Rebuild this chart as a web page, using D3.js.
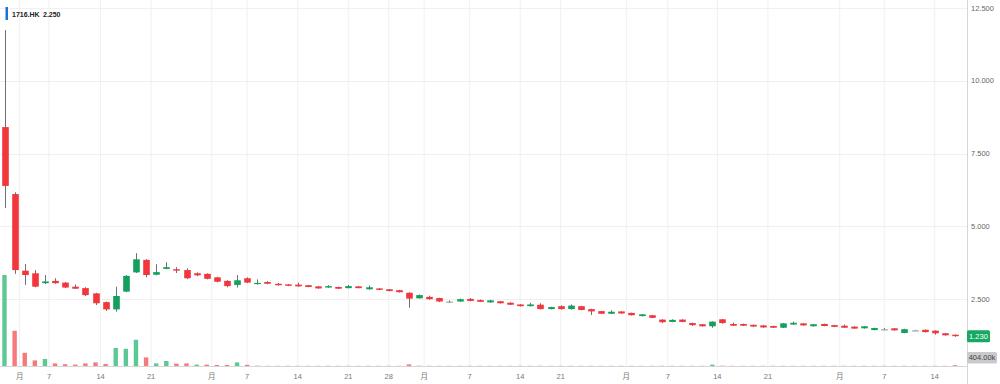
<!DOCTYPE html>
<html>
<head>
<meta charset="utf-8">
<script src="https://cdn.jsdelivr.net/npm/d3@7"></script>
<style>
  body { margin: 0; background: #fff; }
  text { font-family: "Liberation Sans", "Noto Sans CJK SC", sans-serif; }
</style>
</head>
<body>
<div id="chart"></div>
<script>
// daily candles
var opens = [8.41, 6.11, 3.48, 3.39, 3.05, 3.13, 3.07, 2.93, 2.88, 2.70,
  2.40, 2.15, 2.76, 3.42, 3.85, 3.34, 3.54, 3.53, 3.50, 3.39,
  3.37, 3.25, 3.13, 2.99, 3.22, 3.02, 3.09, 3.03, 3.01, 3.00,
  2.98, 2.94, 2.90, 2.92, 2.88, 2.94, 2.84, 2.87, 2.84, 2.81,
  2.72, 2.53, 2.58, 2.54, 2.42, 2.42, 2.51, 2.47, 2.39, 2.43,
  2.38, 2.32, 2.26, 2.31, 2.16, 2.26, 2.16, 2.26, 2.16, 2.09,
  2.00, 2.08, 2.03, 1.92, 1.95, 1.80, 1.72, 1.80, 1.68, 1.64,
  1.57, 1.81, 1.65, 1.65, 1.62, 1.60, 1.58, 1.52, 1.63, 1.67,
  1.57, 1.65, 1.61, 1.59, 1.56, 1.50, 1.44, 1.47, 1.50, 1.34,
  1.43, 1.45, 1.42, 1.33, 1.28];
var highs = [11.74, 6.17, 3.71, 3.50, 3.33, 3.22, 3.09, 3.01, 2.91, 2.72,
  2.42, 2.93, 3.33, 4.08, 3.87, 3.70, 3.77, 3.60, 3.56, 3.42,
  3.39, 3.27, 3.15, 3.33, 3.25, 3.18, 3.12, 3.06, 3.02, 3.07,
  2.99, 2.95, 2.98, 2.93, 2.99, 2.95, 2.97, 2.88, 2.85, 2.82,
  2.74, 2.66, 2.62, 2.55, 2.46, 2.52, 2.54, 2.49, 2.48, 2.44,
  2.39, 2.33, 2.38, 2.36, 2.24, 2.29, 2.32, 2.27, 2.17, 2.10,
  2.12, 2.09, 2.04, 1.99, 1.96, 1.81, 1.81, 1.81, 1.69, 1.65,
  1.74, 1.82, 1.70, 1.66, 1.63, 1.61, 1.59, 1.68, 1.73, 1.68,
  1.65, 1.66, 1.62, 1.63, 1.57, 1.58, 1.52, 1.51, 1.51, 1.48,
  1.45, 1.46, 1.43, 1.34, 1.29];
var lows = [5.63, 3.37, 2.99, 2.91, 3.02, 3.03, 2.88, 2.85, 2.61, 2.30,
  2.10, 2.07, 2.74, 3.40, 3.25, 3.32, 3.53, 3.40, 3.19, 3.29,
  3.18, 3.08, 2.91, 2.90, 3.05, 3.00, 3.02, 2.97, 2.95, 2.93,
  2.91, 2.86, 2.89, 2.85, 2.87, 2.87, 2.83, 2.81, 2.77, 2.73,
  2.21, 2.52, 2.48, 2.40, 2.38, 2.41, 2.43, 2.40, 2.38, 2.35,
  2.30, 2.25, 2.25, 2.15, 2.15, 2.14, 2.14, 2.12, 1.96, 1.99,
  1.99, 2.00, 1.94, 1.91, 1.85, 1.68, 1.71, 1.71, 1.58, 1.56,
  1.52, 1.66, 1.58, 1.58, 1.55, 1.52, 1.51, 1.51, 1.62, 1.59,
  1.56, 1.57, 1.54, 1.51, 1.48, 1.49, 1.43, 1.44, 1.42, 1.33,
  1.42, 1.36, 1.28, 1.25, 1.21];
var closes = [6.39, 3.50, 3.33, 2.93, 3.11, 3.05, 2.90, 2.86, 2.64, 2.36,
  2.15, 2.61, 3.30, 3.87, 3.33, 3.43, 3.60, 3.48, 3.22, 3.32,
  3.20, 3.10, 2.95, 3.15, 3.07, 3.06, 3.03, 2.98, 2.96, 2.94,
  2.92, 2.87, 2.95, 2.86, 2.95, 2.88, 2.91, 2.82, 2.78, 2.74,
  2.52, 2.64, 2.50, 2.42, 2.42, 2.50, 2.44, 2.41, 2.46, 2.36,
  2.31, 2.26, 2.32, 2.16, 2.23, 2.16, 2.28, 2.13, 2.08, 2.00,
  2.07, 2.01, 1.95, 1.98, 1.86, 1.71, 1.79, 1.72, 1.61, 1.57,
  1.73, 1.68, 1.59, 1.59, 1.56, 1.53, 1.52, 1.67, 1.69, 1.60,
  1.64, 1.58, 1.55, 1.52, 1.49, 1.57, 1.51, 1.47, 1.43, 1.47,
  1.43, 1.37, 1.33, 1.26, 1.23];
// volume in millions of shares
var volumes = [45.5, 17.6, 6.6, 2.8, 3.5, 1.3, 0.9, 0.7, 1.3, 1.8,
  1.0, 9.0, 8.6, 13.1, 4.3, 1.3, 2.5, 1.2, 1.3, 0.7,
  0.7, 0.5, 0.5, 1.8, 0.6, 0.15, 0.1, 0.1, 0.12, 0.1,
  0.1, 0.1, 0.12, 0.1, 0.1, 0.1, 0.12, 0.1, 0.1, 0.1,
  0.8, 0.15, 0.1, 0.1, 0.1, 0.1, 0.1, 0.1, 0.1, 0.1,
  0.1, 0.1, 0.1, 0.12, 0.1, 0.1, 0.1, 0.1, 0.12, 0.1,
  0.1, 0.1, 0.1, 0.1, 0.1, 0.12, 0.1, 0.1, 0.1, 0.1,
  0.7, 0.15, 0.1, 0.1, 0.1, 0.1, 0.1, 0.12, 0.1, 0.1,
  0.1, 0.1, 0.1, 0.1, 0.1, 0.1, 0.1, 0.1, 0.1, 0.12,
  0.1, 0.1, 0.1, 0.1, 0.404];

var priceTicks = [2.5, 5, 7.5, 10, 12.5];
var tickPos = [1.5, 4.4, 9.5, 14.5, 20.5, 24, 29, 34, 38, 41.5, 46, 51, 55, 61.5, 65.6, 70.5, 75.5, 82.6, 87, 92];
var tickLabels = ["月", "7", "14", "21", "月", "7", "14", "21", "28", "月", "7", "14", "21", "月", "7", "14", "21", "月", "7", "14"];
var symbol = "1716.HK";
var legendPrice = 2.25;

var width = 1000, height = 384;
var plotRight = 967, baseY = 366;
var red = "#f2363c", green = "#12a05c", gray = "#a0a0a0";

var svg = d3.select("#chart").append("svg")
    .attr("width", width)
    .attr("height", height);

var x = d3.scaleLinear().domain([0, closes.length - 1]).range([4.5, 955]);
var y = d3.scaleLinear().domain([0, 12.5]).range([372, 8]);
var yVol = d3.scaleLinear().domain([0, 50]).range([baseY, baseY - 100]);

var data = closes.map(function(c, i) {
    return {i: i, o: opens[i], h: highs[i], l: lows[i], c: c, v: volumes[i],
        prev: i > 0 ? closes[i - 1] : null};
});

// grid
svg.append("g").selectAll("line").data(tickPos).enter().append("line")
    .attr("x1", d => x(d)).attr("x2", d => x(d))
    .attr("y1", 0).attr("y2", baseY)
    .attr("stroke", "#f0f0f0").attr("stroke-width", 1);
svg.append("g").selectAll("line").data(priceTicks).enter().append("line")
    .attr("x1", 0).attr("x2", plotRight)
    .attr("y1", d => Math.round(y(d)) + 0.5).attr("y2", d => Math.round(y(d)) + 0.5)
    .attr("stroke", "#f0f0f0").attr("stroke-width", 1);

// volume bars
svg.append("g").selectAll("rect").data(data).enter().append("rect")
    .attr("x", d => x(d.i) - 2.2)
    .attr("width", 4.4)
    .attr("y", d => yVol(d.v))
    .attr("height", d => baseY - yVol(d.v))
    .attr("fill", d => (d.prev === null || d.c >= d.prev) ? "#5cc995" : "#f47a7c");

// candles
var candle = svg.append("g").selectAll("g").data(data).enter().append("g");
function candleColor(d) {
    if (d.c > d.o) return green;
    if (d.c < d.o) return red;
    return gray;
}
candle.append("line")
    .attr("x1", d => Math.round(x(d.i)) + 0.5).attr("x2", d => Math.round(x(d.i)) + 0.5)
    .attr("y1", d => y(d.h)).attr("y2", d => y(d.l))
    .attr("stroke", "#707070").attr("stroke-width", 1);
candle.append("rect")
    .attr("x", d => Math.round(x(d.i)) + 0.5 - 3.3)
    .attr("width", 6.6)
    .attr("y", d => y(Math.max(d.o, d.c)))
    .attr("height", d => Math.max(1.2, Math.abs(y(d.o) - y(d.c))))
    .attr("fill", candleColor);

// axes lines
svg.append("line").attr("x1", 0).attr("x2", plotRight)
    .attr("y1", baseY + 0.5).attr("y2", baseY + 0.5)
    .attr("stroke", "#d6d6d6");
svg.append("line").attr("x1", plotRight + 0.5).attr("x2", plotRight + 0.5)
    .attr("y1", 0).attr("y2", height)
    .attr("stroke", "#d6d6d6");

// right price axis
svg.append("g").selectAll("text").data(priceTicks).enter().append("text")
    .attr("x", 971)
    .attr("y", d => y(d))
    .attr("dy", "0.35em")
    .attr("font-size", "7.5px")
    .attr("fill", "#666")
    .text(d => d3.format(".3f")(d));

// bottom axis labels
svg.append("g").selectAll("text").data(tickPos).enter().append("text")
    .attr("x", d => x(d))
    .attr("y", 376)
    .attr("dy", "0.35em")
    .attr("text-anchor", "middle")
    .attr("font-size", "7.5px")
    .attr("fill", "#777")
    .text((d, i) => tickLabels[i]);

// last price tag
var last = data[data.length - 1];
svg.append("rect").attr("x", plotRight).attr("y", y(last.c) - 6)
    .attr("width", 23).attr("height", 12).attr("rx", 1.5)
    .attr("fill", "#17a862");
svg.append("text").attr("x", plotRight + 11.5).attr("y", y(last.c))
    .attr("dy", "0.35em").attr("text-anchor", "middle")
    .attr("font-size", "7.5px").attr("fill", "#fff")
    .text(d3.format(".3f")(last.c));

// last volume tag
svg.append("rect").attr("x", plotRight).attr("y", 352)
    .attr("width", 30).attr("height", 11.5).attr("rx", 1.5)
    .attr("fill", "#c9c9ce");
svg.append("text").attr("x", plotRight + 15).attr("y", 357.8)
    .attr("dy", "0.35em").attr("text-anchor", "middle")
    .attr("font-size", "7.5px").attr("fill", "#444")
    .text(d3.format(".2f")(last.v * 1000) + "k");

// legend
svg.append("rect").attr("x", 5.5).attr("y", 7).attr("width", 2.5).attr("height", 13)
    .attr("fill", "#1a73d9");
svg.append("text").attr("x", 12).attr("y", 17)
    .attr("font-size", "7px").attr("font-weight", "bold").attr("fill", "#222")
    .text(symbol);
svg.append("text").attr("x", 43).attr("y", 17)
    .attr("font-size", "7px").attr("font-weight", "bold").attr("fill", "#222")
    .text(d3.format(".3f")(legendPrice));
</script>
</body>
</html>
